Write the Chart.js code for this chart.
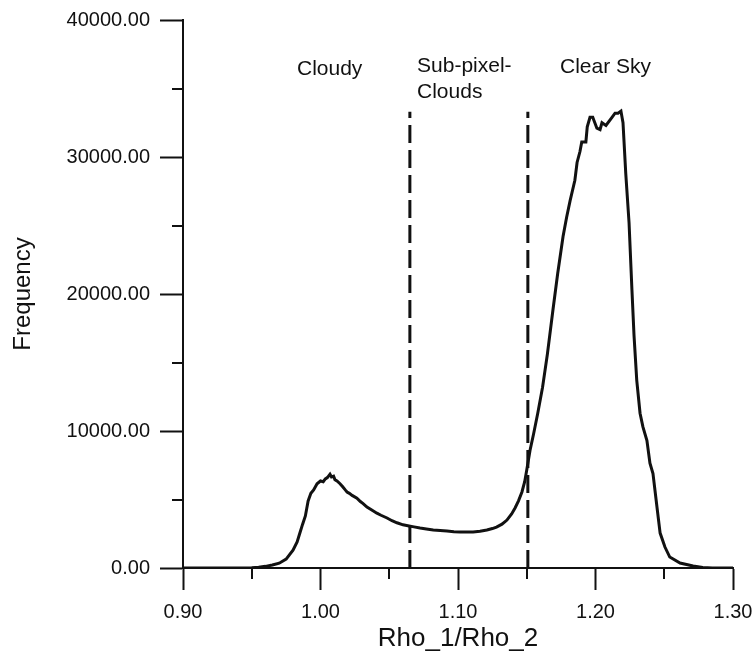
<!DOCTYPE html>
<html>
<head>
<meta charset="utf-8">
<script src="https://cdn.jsdelivr.net/npm/chart.js@4"></script>
<style>
html,body{margin:0;padding:0;background:#fff;}
#wrap{width:754px;height:653px;position:relative;}
</style>
</head>
<body>
<div id="wrap"><canvas id="c" width="754" height="653"></canvas></div>
<script>
// ---- data ----
const ratio = [0.90,0.93,0.945,0.95,0.955,0.96,0.965,0.970,0.975,0.980,0.983,0.985,0.987,0.989,0.991,0.993,0.995,0.9975,1.000,1.002,1.0035,1.005,1.0069,1.008,1.0095,1.0105,1.012,1.0142,1.016,1.018,1.0193,1.021,1.023,1.0265,1.029,1.031,1.0338,1.037,1.041,1.044,1.0484,1.052,1.0556,1.06,1.0644,1.068,1.0724,1.077,1.082,1.087,1.092,1.097,1.1015,1.106,1.111,1.116,1.121,1.125,1.128,1.132,1.1356,1.139,1.1415,1.144,1.1465,1.1485,1.150,1.1524,1.155,1.158,1.1615,1.165,1.169,1.1725,1.1764,1.179,1.1815,1.185,1.1866,1.1887,1.19,1.193,1.194,1.196,1.198,1.201,1.2033,1.2047,1.2076,1.212,1.2142,1.2164,1.2185,1.22,1.222,1.2244,1.2265,1.228,1.230,1.2324,1.2345,1.2374,1.2396,1.2418,1.2447,1.247,1.2505,1.254,1.2615,1.271,1.278,1.285,1.30];
const frequency = [0,0,0,20,60,120,220,350,650,1300,1900,2550,3200,3800,4900,5450,5700,6150,6350,6300,6500,6600,6850,6650,6700,6450,6350,6150,5950,5700,5550,5450,5300,5100,4850,4700,4450,4250,4000,3850,3650,3450,3300,3150,3070,3000,2920,2850,2770,2730,2700,2650,2630,2620,2630,2680,2770,2880,2990,3200,3500,3950,4380,4900,5550,6300,7150,8600,9800,11300,13200,15600,18800,21500,24200,25600,26800,28300,29600,30400,31100,31100,32200,32900,32900,32100,32000,32500,32300,32900,33200,33200,33350,32500,28800,25200,20300,17000,13700,11300,10300,9300,7650,6900,4450,2550,1530,800,360,150,30,0,0];
const boundaries = [1.065, 1.1508];       // dashed class boundaries (Rho_1/Rho_2)
const boundaryTop = 33300;                // frequency reached by the dashed lines
const xMajorTicks = [0.90,1.00,1.10,1.20,1.30];
const xMinorTicks = [0.95,1.05,1.15,1.25];
const yMajorTicks = [0,10000,20000,30000,40000];
const yMinorTicks = [5000,15000,25000,35000];
const classLabels = ["Cloudy", "Sub-pixel-\nClouds", "Clear Sky"];
const classLabelX = [0.9829, 1.0702, 1.1742];
const classLabelY = [36000, 36200, 36130];

const FONT = "'Liberation Sans', Arial, Helvetica, sans-serif";
const INK = '#111';

const datasets = [{
  data: ratio.map((x,i)=>({x, y: frequency[i]})),
  borderColor: INK, borderWidth: 3, pointRadius: 0, tension: 0, fill: false
}];
boundaries.forEach(b => datasets.push({
  data: [{x:b, y:0},{x:b, y:boundaryTop}],
  borderColor: INK, borderWidth: 3, borderDash: [18,7], pointRadius: 0, fill: false
}));

const extras = {
  id: 'extras',
  afterDraw(chart) {
    const {ctx, scales:{x, y}} = chart;
    ctx.save();
    ctx.strokeStyle = INK; ctx.lineWidth = 2;
    ctx.beginPath();
    yMinorTicks.forEach(v => { const py = Math.round(y.getPixelForValue(v)); ctx.moveTo(x.left - 11, py); ctx.lineTo(x.left, py); });
    xMinorTicks.forEach(v => { const px = Math.round(x.getPixelForValue(v)); ctx.moveTo(px, y.bottom); ctx.lineTo(px, y.bottom + 11); });
    ctx.stroke();
    ctx.fillStyle = INK;
    ctx.font = "21px " + FONT;
    ctx.textBaseline = 'alphabetic';
    ctx.textAlign = 'left';
    classLabels.forEach((t, i) => {
      const px = x.getPixelForValue(classLabelX[i]);
      const py = y.getPixelForValue(classLabelY[i]);
      t.split('\n').forEach((line, j) => ctx.fillText(line, px, py + j * 26));
    });
    ctx.restore();
  }
};

new Chart(document.getElementById('c'), {
  type: 'line',
  data: { datasets },
  options: {
    responsive: false, animation: false,
    layout: { padding: { left: 0, top: 20, right: 21, bottom: 0 } },
    plugins: { legend: { display: false }, tooltip: { enabled: false } },
    scales: {
      x: {
        type: 'linear', min: 0.9, max: 1.3,
        afterBuildTicks: s => { s.ticks = xMajorTicks.map(v => ({value: v})); },
        afterFit: s => { s.height = 85; s.paddingLeft = 0; s.paddingRight = 0; },
        border: { display: true, color: INK, width: 2 },
        grid: { display: true, drawOnChartArea: false, drawTicks: true, tickLength: 22, tickColor: INK, tickWidth: 2 },
        ticks: { color: INK, padding: 10, maxRotation: 0, font: { family: FONT, size: 20 }, callback: v => Number(v).toFixed(2) },
        title: { display: true, text: 'Rho_1/Rho_2', color: INK, font: { family: FONT, size: 26 }, padding: { top: 0, bottom: -1 } }
      },
      y: {
        type: 'linear', min: 0, max: 40000,
        afterBuildTicks: s => { s.ticks = yMajorTicks.map(v => ({value: v})); },
        afterFit: s => { s.width = 183; s.paddingTop = 0; s.paddingBottom = 0; },
        border: { display: true, color: INK, width: 2 },
        grid: { display: true, drawOnChartArea: false, drawTicks: true, tickLength: 23, tickColor: INK, tickWidth: 2 },
        ticks: { color: INK, padding: 10, font: { family: FONT, size: 20 }, callback: v => Number(v).toFixed(2) },
        title: { display: true, text: 'Frequency', color: INK, font: { family: FONT, size: 24 }, padding: { top: 9, bottom: 0 } }
      }
    }
  },
  plugins: [extras]
});
</script>
</body>
</html>
